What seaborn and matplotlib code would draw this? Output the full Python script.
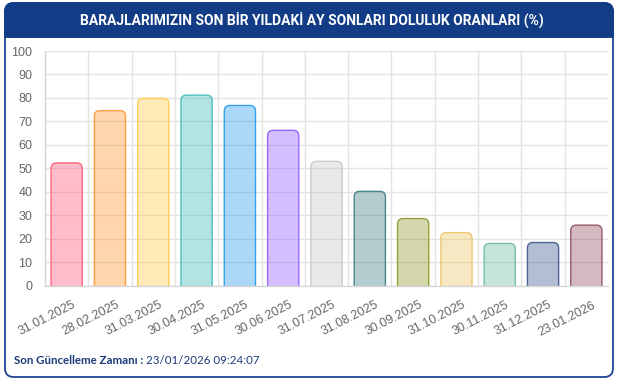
import matplotlib
matplotlib.use("Agg")
import matplotlib.pyplot as plt
import matplotlib.transforms as mtransforms
from matplotlib.patches import FancyBboxPatch, Rectangle
from matplotlib.colors import to_rgba
import seaborn as sns
import pandas as pd
import numpy as np

# ---------------- data ----------------
dates = ["31.01.2025", "28.02.2025", "31.03.2025", "30.04.2025", "31.05.2025",
         "30.06.2025", "31.07.2025", "31.08.2025", "30.09.2025", "31.10.2025",
         "30.11.2025", "31.12.2025", "23.01.2026"]
values = [52.3, 74.6, 79.8, 81.2, 76.8, 66.2, 53.0, 40.2, 28.6, 22.6, 18.0, 18.4, 25.8]
border_colors = ["#FF6384", "#FF9F40", "#FFCD56", "#4BC0C0", "#36A2EB", "#9966FF",
                 "#C9CBCF", "#4A878C", "#96A038", "#EDC86E", "#75C0A7", "#4A6494", "#985A69"]
y_ticks = list(range(0, 101, 10))
title = "BARAJLARIMIZIN SON BİR YILDAKİ AY SONLARI DOLULUK ORANLARI (%)"
footer_bold = "Son Güncelleme Zamanı :"
footer_value = " 23/01/2026 09:24:07"

# ---------------- style ----------------
sns.set_style("white")
plt.rcParams["font.family"] = ["Liberation Sans", "DejaVu Sans"]

W, H = 622, 387
fig = plt.figure(figsize=(W / 100, H / 100), dpi=100)

def fx(px):
    return px / W

def fy(py):
    return 1 - py / H

# card frame
navy = "#123C85"
card = FancyBboxPatch((fx(5), fy(377)), fx(613) - fx(5), fy(3) - fy(377),
                      boxstyle="round,pad=0,rounding_size=0.014",
                      mutation_aspect=W / H,
                      transform=fig.transFigure, facecolor="white",
                      edgecolor="#1F4590", linewidth=1.3, zorder=0)
fig.patches.append(card)
header = FancyBboxPatch((fx(5), fy(37)), fx(613) - fx(5), fy(3) - fy(37),
                        boxstyle="round,pad=0,rounding_size=0.014",
                        mutation_aspect=W / H,
                        transform=fig.transFigure, facecolor=navy,
                        edgecolor=navy, linewidth=1.3, zorder=1)
fig.patches.append(header)
fig.patches.append(Rectangle((fx(5), fy(37)), fx(613) - fx(5), fy(20) - fy(37),
                             transform=fig.transFigure, facecolor=navy,
                             edgecolor=navy, linewidth=1.3, zorder=1))
fig.text(fx(312), fy(20), title, color="white", fontsize=10, fontweight="bold",
         family=["Roboto", "DejaVu Sans"], ha="center", va="center", zorder=3)

# ---------------- axes ----------------
ax_l, ax_r, ax_t, ax_b = 45, 608, 51, 285.7
ax = fig.add_axes([fx(ax_l), fy(ax_b), fx(ax_r) - fx(ax_l), fy(ax_t) - fy(ax_b)])
ax.set_zorder(2)
ax.patch.set_alpha(0)

df = pd.DataFrame({"date": dates, "value": values})
fills = [to_rgba(c, 0.4) for c in border_colors]
sns.barplot(data=df, x="date", y="value", hue="date", palette=fills, legend=False,
            width=0.72, saturation=1, ax=ax)

n = len(dates)
ax.set_xlim(-0.5, n - 0.5)
ax.set_ylim(0, 100)

# rounded top corners (Chart.js style)
px_per_x = (ax_r - ax_l) / n
px_per_y = (ax_b - ax_t) / 100
rad_px = 5.5
rx = rad_px / px_per_x
ry = rad_px / px_per_y
bars = list(ax.patches)
for p, ec in zip(bars, border_colors):
    x0, w, h = p.get_x(), p.get_width(), p.get_height()
    p.remove()
    fb = FancyBboxPatch((x0, -2 * ry), w, h + 2 * ry,
                        boxstyle=f"round,pad=0,rounding_size={rx}",
                        mutation_aspect=ry / rx,
                        facecolor=to_rgba(ec, 0.42), edgecolor=ec, linewidth=1.0,
                        zorder=2)
    ax.add_patch(fb)

# grid & ticks
grid_c = "#E3E3E3"
ax.set_axisbelow(True)
ax.set_yticks(y_ticks)
ax.set_yticklabels([str(t) for t in y_ticks])
ax.set_xticks(range(n))
ax.set_xticklabels(dates)
ax.set_xticks(np.arange(n) - 0.5, minor=True)
ax.tick_params(axis="y", length=7, color=grid_c, width=1, pad=2,
               labelsize=9, labelcolor="#666666")
ax.tick_params(axis="x", which="major", length=0, pad=13.5,
               labelsize=9, labelcolor="#666666")
ax.tick_params(axis="x", which="minor", length=7, color=grid_c, width=1)
ax.grid(axis="y", which="major", color=grid_c, linewidth=1)
ax.grid(axis="x", which="minor", color=grid_c, linewidth=1)
ax.grid(axis="x", which="major", visible=False)
ax.set_xlabel("")
ax.set_ylabel("")
for s in ["top", "right"]:
    ax.spines[s].set_visible(False)
for s in ["left", "bottom"]:
    ax.spines[s].set_color("#D6D6D6")
    ax.spines[s].set_linewidth(1)

offset = mtransforms.ScaledTranslation(6 / 72, 0, fig.dpi_scale_trans)
for lab in ax.get_xticklabels():
    lab.set_rotation(27)
    lab.set_ha("right")
    lab.set_va("center")
    lab.set_rotation_mode("anchor")
    lab.set_transform(lab.get_transform() + offset)

# footer
ft_color = "#1B3A78"
t1 = fig.text(fx(14), fy(360), footer_bold, color=ft_color, fontsize=8.3,
              fontweight="bold", family=["Lato", "DejaVu Sans"], ha="left", va="center")
fig.canvas.draw()
bb = t1.get_window_extent()
fig.text(bb.x1 / W, fy(360), footer_value, color=ft_color, fontsize=8.3,
         family=["Lato", "DejaVu Sans"], ha="left", va="center")

fig.savefig("out.png", dpi=100)
